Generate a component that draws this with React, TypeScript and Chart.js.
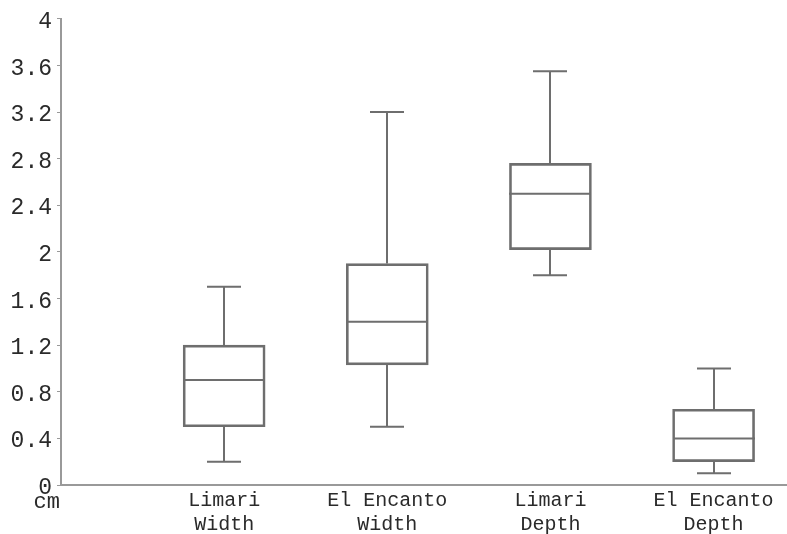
import React, { useEffect, useRef } from "react";
import { Chart, registerables } from "chart.js";

Chart.register(...registerables);

const categoryLines: string[][] = [
  ["Limari", "Width"],
  ["El Encanto", "Width"],
  ["Limari", "Depth"],
  ["El Encanto", "Depth"],
];
const positions = [1, 2, 3, 4];
const mins = [0.2, 0.5, 1.8, 0.1];
const q1s = [0.5, 1.03, 2.02, 0.2];
const medians = [0.9, 1.4, 2.5, 0.4];
const q3s = [1.2, 1.9, 2.76, 0.65];
const maxs = [1.7, 3.2, 3.55, 1.0];
const yTicks = [0, 0.4, 0.8, 1.2, 1.6, 2, 2.4, 2.8, 3.2, 3.6, 4];
const yUnit = "cm";

const FONT = "'Liberation Mono', 'Courier New', monospace";
const LINE = "#6e6e6e";
const AXIS = "#999999";
const TEXT = "#2a2a2a";

const whiskerPlugin = {
  id: "whiskers",
  afterDatasetsDraw(chart: any) {
    const ctx = chart.ctx;
    const xs = chart.scales.x;
    const ys = chart.scales.y;
    const meta = chart.getDatasetMeta(0);
    ctx.save();
    ctx.strokeStyle = LINE;
    ctx.lineWidth = 2;
    positions.forEach((p, i) => {
      const cx = Math.round(xs.getPixelForValue(p));
      const bar = meta.data[i];
      const half = bar ? bar.width / 2 : 41;
      const cap = 17;
      const yMin = ys.getPixelForValue(mins[i]);
      const yQ1 = ys.getPixelForValue(q1s[i]);
      const yMed = ys.getPixelForValue(medians[i]);
      const yQ3 = ys.getPixelForValue(q3s[i]);
      const yMax = ys.getPixelForValue(maxs[i]);
      ctx.beginPath();
      ctx.moveTo(cx, yQ3);
      ctx.lineTo(cx, yMax);
      ctx.moveTo(cx - cap, yMax);
      ctx.lineTo(cx + cap, yMax);
      ctx.moveTo(cx, yQ1);
      ctx.lineTo(cx, yMin);
      ctx.moveTo(cx - cap, yMin);
      ctx.lineTo(cx + cap, yMin);
      ctx.moveTo(cx - half, yMed);
      ctx.lineTo(cx + half, yMed);
      ctx.stroke();
    });
    // unit label below the zero tick
    ctx.fillStyle = TEXT;
    ctx.font = `22px ${FONT}`;
    ctx.textAlign = "right";
    ctx.textBaseline = "alphabetic";
    ctx.fillText(yUnit, ys.right - 1, ys.getPixelForValue(0) + 23);
    ctx.restore();
  },
};

export default function App() {
  const ref = useRef<HTMLCanvasElement | null>(null);
  useEffect(() => {
    if (!ref.current) return;
    const chart = new Chart(ref.current, {
      type: "bar",
      data: {
        datasets: [
          {
            data: positions.map((x, i) => ({ x, y: [q1s[i], q3s[i]] })) as any,
            backgroundColor: "rgba(0,0,0,0)",
            borderColor: LINE,
            borderWidth: 2,
            borderSkipped: false,
            barThickness: 82,
          },
        ],
      },
      options: {
        animation: false,
        responsive: false,
        layout: { padding: { top: 13, right: 0, left: 0, bottom: 0 } },
        plugins: { legend: { display: false }, tooltip: { enabled: false } },
        scales: {
          x: {
            type: "linear",
            offset: false,
            min: 0,
            max: 4.45,
            afterBuildTicks: (scale: any) => {
              scale.ticks = positions.map((v) => ({ value: v }));
            },
            afterFit: (scale: any) => {
              scale.height = 49;
            },
            grid: { display: false, drawTicks: false, offset: false },
            border: { display: true, color: AXIS, width: 2 },
            ticks: {
              autoSkip: false,
              maxRotation: 0,
              padding: 4,
              color: TEXT,
              font: { family: FONT, size: 20, lineHeight: 1.2 },
              callback: (v: any) => {
                const idx = positions.indexOf(Number(v));
                return idx >= 0 ? categoryLines[idx] : "";
              },
            },
          },
          y: {
            type: "linear",
            min: 0,
            max: 4,
            afterBuildTicks: (scale: any) => {
              scale.ticks = yTicks.map((v) => ({ value: v }));
            },
            afterFit: (scale: any) => {
              scale.width = 61;
            },
            grid: {
              display: true,
              drawOnChartArea: false,
              drawTicks: true,
              tickLength: 4,
              tickColor: AXIS,
              lineWidth: 1,
            },
            border: { display: true, color: AXIS, width: 2 },
            ticks: {
              padding: 5,
              labelOffset: 3,
              color: TEXT,
              font: { family: FONT, size: 23 },
              callback: (v: any) => String(Number(Number(v).toFixed(1))),
            },
          },
        },
      },
      plugins: [whiskerPlugin],
    });
    return () => chart.destroy();
  }, []);
  return (
    <div style={{ position: "absolute", left: 0, top: 0, width: 787, height: 534, background: "#fff" }}>
      <canvas ref={ref} width={787} height={534} style={{ display: "block" }} />
    </div>
  );
}
